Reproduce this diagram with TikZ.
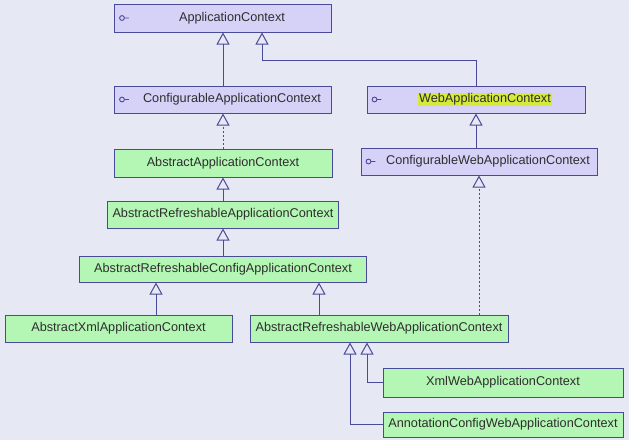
\documentclass[tikz,border=0pt]{standalone}
\usepackage{fontspec}
\setmainfont{Liberation Sans}
\usetikzlibrary{arrows.meta}
\definecolor{canvas}{HTML}{E6E8F4}
\definecolor{ifacefill}{HTML}{D6D1F7}
\definecolor{clsfill}{HTML}{B4F6B4}
\definecolor{edge}{HTML}{4A4A98}
\definecolor{hilite}{HTML}{D6EA3C}
\definecolor{ink}{HTML}{2E2E2E}
\setlength{\fboxsep}{1pt}

\begin{document}
\begin{tikzpicture}[x=1pt, y=1pt, font=\fontsize{12.7}{15}\selectfont, text=ink,
    box/.style={draw=edge, line width=1pt, minimum height=27pt, inner sep=0pt},
    iface/.style={box, fill=ifacefill, execute at begin node={\hspace*{18pt}},
      path picture={\draw[edge, line width=0.9pt] ([xshift=7.5pt]path picture bounding box.west) circle (2.4pt) ++(2.4pt,0) -- ++(4.5pt,0);}},
    cls/.style={box, fill=clsfill},
    gen/.style={draw=edge, line width=1pt, -{Triangle[open, length=12pt, width=13pt]}},
    real/.style={gen, dash pattern=on 2pt off 2pt}]
    \fill[canvas] (0,0) rectangle (629,-440);
    \useasboundingbox (0,0) rectangle (629,-440);
    % interfaces
    \node (app) [iface, minimum width=217pt, minimum height=28pt] at (223,-18) {ApplicationContext};
    \node (confapp) [iface, minimum width=217pt] at (223,-99.5) {ConfigurableApplicationContext};
    \node (webapp) [iface, minimum width=218pt] at (476,-99.5) {\colorbox{hilite}{WebApplicationContext}};
    \node (confweb) [iface, minimum width=236pt] at (479,-161.5) {ConfigurableWebApplicationContext};
    % classes
    \node (absapp) [cls, minimum width=218pt, minimum height=28pt] at (223,-163) {AbstractApplicationContext};
    \node (absrefr) [cls, minimum width=231pt] at (223,-214.5) {AbstractRefreshableApplicationContext};
    \node (absconf) [cls, minimum width=287pt, minimum height=26pt] at (223,-269) {AbstractRefreshableConfigApplicationContext};
    \node (absxml) [cls, minimum width=227pt] at (118.5,-328.5) {AbstractXmlApplicationContext};
    \node (absweb) [cls, minimum width=258pt] at (379,-328.5) {AbstractRefreshableWebApplicationContext};
    \node (xmlweb) [cls, minimum width=240pt, minimum height=29pt] at (503,-382.5) {XmlWebApplicationContext};
    \node (annot) [cls, minimum width=240pt, minimum height=25pt] at (503,-424.5) {AnnotationConfigWebApplicationContext};
    % connectors
    \coordinate (appr) at ([xshift=39pt]app.south);
    \coordinate (xmlup) at ([xshift=-67pt]absconf.south);
    \coordinate (webup) at ([xshift=96pt]absconf.south);
    \coordinate (annup) at ([xshift=-29pt]absweb.south);
    \coordinate (xmlwup) at ([xshift=-12pt]absweb.south);
    \draw[gen] (confapp.north) -- (app.south);
    \draw[gen] (webapp.north) |- ([yshift=-28pt]appr) -- (appr);
    \draw[gen] (webapp.south |- confweb.north) -- (webapp.south);
    \draw[real] (absapp.north) -- (confapp.south);
    \draw[gen] (absrefr.north) -- (absapp.south);
    \draw[gen] (absconf.north) -- (absrefr.south);
    \draw[gen] (absxml.north -| xmlup) -- (xmlup);
    \draw[gen] (absweb.north -| webup) -- (webup);
    \draw[real] (absweb.north -| confweb.south) -- (confweb.south);
    \draw[gen] (xmlweb.west) -| (xmlwup);
    \draw[gen] (annot.west) -| (annup);
\end{tikzpicture}
\end{document}
